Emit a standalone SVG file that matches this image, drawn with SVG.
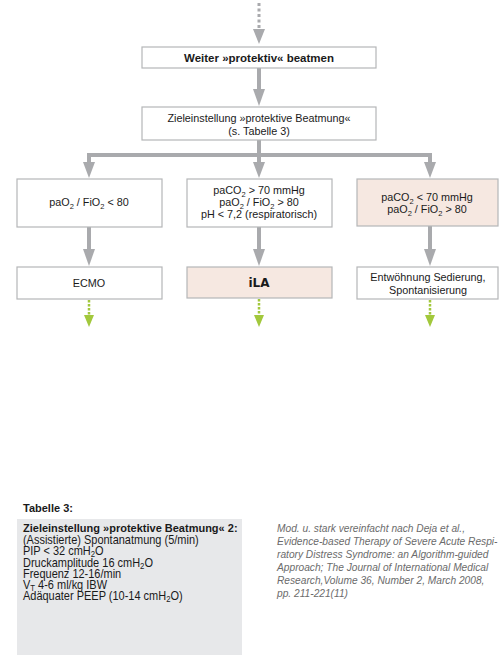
<svg xmlns="http://www.w3.org/2000/svg" width="499" height="655" viewBox="0 0 499 655">
<style>
.box{fill:#ffffff;stroke:#b5b6b8;stroke-width:1.2}
.pink{fill:#f6e8e1;stroke:#b5b6b8;stroke-width:1.2}
.t{font-family:"Liberation Sans",Arial,sans-serif;font-size:10.8px;fill:#1a1a1a;text-anchor:middle}
.b{font-weight:bold;font-size:11.5px}
.g{stroke:#a9aaad;stroke-width:4;fill:none}
.gh{fill:#a9aaad}
.gr{stroke:#a2c83c;stroke-width:2.5;fill:none;stroke-dasharray:2.5 1.5}
.grh{fill:#a2c83c}
.tab{font-family:"Liberation Sans",Arial,sans-serif;font-size:12px;fill:#1a1a1a}
.tb{font-weight:bold;font-size:11px}
.cit{font-family:"Liberation Sans",Arial,sans-serif;font-size:10.2px;font-style:italic;fill:#6b6b6b}
.s{font-size:7.5px}
.s2{font-size:8.5px}
</style>
<g id="connectors">
  <line x1="259" y1="3" x2="259" y2="28" stroke="#a9aaad" stroke-width="3" stroke-dasharray="3 2.5"/>
  <polygon class="gh" points="253,29 265,29 259,44"/>
  <line class="g" x1="259" y1="68" x2="259" y2="90"/>
  <polygon class="gh" points="253,89 265,89 259,106"/>
  <line class="g" x1="259" y1="140" x2="259" y2="155"/>
  <polyline class="g" points="89,163 89,155 430,155 430,163"/>
  <polygon class="gh" points="83,162 95,162 89,178"/>
  <line class="g" x1="259" y1="155" x2="259" y2="163"/>
  <polygon class="gh" points="253,162 265,162 259,178"/>
  <polygon class="gh" points="424,162 436,162 430,178"/>
  <line class="g" x1="89" y1="227" x2="89" y2="250"/>
  <polygon class="gh" points="83,249 95,249 89,266"/>
  <line class="g" x1="259" y1="227" x2="259" y2="250"/>
  <polygon class="gh" points="253,249 265,249 259,266"/>
  <line class="g" x1="430" y1="226" x2="430" y2="250"/>
  <polygon class="gh" points="424,249 436,249 430,266"/>
  <line class="gr" x1="89" y1="300" x2="89" y2="316"/>
  <polygon class="grh" points="84,315 94,315 89,327"/>
  <line class="gr" x1="259" y1="299" x2="259" y2="316"/>
  <polygon class="grh" points="254,315 264,315 259,327"/>
  <line class="gr" x1="430" y1="300" x2="430" y2="316"/>
  <polygon class="grh" points="425,315 435,315 430,327"/>
</g>
<g id="n1">
  <rect class="box" x="142" y="47" width="234" height="21"/>
  <text class="t b" x="259" y="62">Weiter »protektiv« beatmen</text>
</g>
<g id="n2">
  <rect class="box" x="142" y="107" width="234" height="33"/>
  <text class="t" x="259" y="122">Zieleinstellung »protektive Beatmung«</text>
  <text class="t" x="259" y="135">(s. Tabelle 3)</text>
</g>
<g id="n3">
  <rect class="box" x="17" y="179" width="145" height="48"/>
  <text class="t" x="89" y="206">paO<tspan class="s" dy="2.5">2</tspan><tspan dy="-2.5"> / FiO</tspan><tspan class="s" dy="2.5">2</tspan><tspan dy="-2.5"> &lt; 80</tspan></text>
</g>
<g id="n4">
  <rect class="box" x="187" y="179" width="145" height="48"/>
  <text class="t" x="259" y="194">paCO<tspan class="s" dy="2.5">2</tspan><tspan dy="-2.5"> &gt; 70 mmHg</tspan></text>
  <text class="t" x="259" y="206">paO<tspan class="s" dy="2.5">2</tspan><tspan dy="-2.5"> / FiO</tspan><tspan class="s" dy="2.5">2</tspan><tspan dy="-2.5"> &gt; 80</tspan></text>
  <text class="t" x="259" y="218">pH &lt; 7,2 (respiratorisch)</text>
</g>
<g id="n5">
  <rect class="pink" x="357" y="179" width="141" height="47"/>
  <text class="t" x="427" y="201">paCO<tspan class="s" dy="2.5">2</tspan><tspan dy="-2.5"> &lt; 70 mmHg</tspan></text>
  <text class="t" x="427" y="213">paO<tspan class="s" dy="2.5">2</tspan><tspan dy="-2.5"> / FiO</tspan><tspan class="s" dy="2.5">2</tspan><tspan dy="-2.5"> &gt; 80</tspan></text>
</g>
<g id="n6">
  <rect class="box" x="17" y="267" width="145" height="32"/>
  <text class="t" x="89" y="287">ECMO</text>
</g>
<g id="n7">
  <rect class="pink" x="187" y="267" width="145" height="31"/>
  <text class="t b" x="259" y="287" style="font-family:'DejaVu Sans',sans-serif;font-size:12px">iLA</text>
</g>
<g id="n8">
  <rect class="box" x="357" y="267" width="141" height="32"/>
  <text class="t" x="428" y="281">Entwöhnung Sedierung,</text>
  <text class="t" x="428" y="294">Spontanisierung</text>
</g>
<g id="table">
  <text class="tab tb" x="23" y="512">Tabelle 3:</text>
  <rect x="17" y="519" width="225" height="136" fill="#e7e8ea"/>
  <text class="tab tb" x="23" y="532">Zieleinstellung »protektive Beatmung« 2:</text>
  <g transform="scale(0.915,1)">
  <text class="tab" x="25.1" y="544">(Assistierte) Spontanatmung (5/min)</text>
  <text class="tab" x="25.1" y="555">PIP &lt; 32 cmH<tspan class="s2" dy="2.5">2</tspan><tspan dy="-2.5">O</tspan></text>
  <text class="tab" x="25.1" y="567">Druckamplitude 16 cmH<tspan class="s2" dy="2.5">2</tspan><tspan dy="-2.5">O</tspan></text>
  <text class="tab" x="25.1" y="578">Frequenz 12-16/min</text>
  <text class="tab" x="25.1" y="589">V<tspan class="s2" dy="2.5">T</tspan><tspan dy="-2.5"> 4-6 ml/kg IBW</tspan></text>
  <text class="tab" x="25.1" y="600">Adäquater PEEP (10-14 cmH<tspan class="s2" dy="2.5">2</tspan><tspan dy="-2.5">O)</tspan></text>
  </g>
</g>
<g id="citation">
  <text class="cit" x="277" y="532">Mod. u. stark vereinfacht nach Deja et al.,</text>
  <text class="cit" x="277" y="545">Evidence-based Therapy of Severe Acute Respi-</text>
  <text class="cit" x="277" y="558">ratory Distress Syndrome: an Algorithm-guided</text>
  <text class="cit" x="277" y="571">Approach; The Journal of International Medical</text>
  <text class="cit" x="277" y="584">Research,Volume 36, Number 2, March 2008,</text>
  <text class="cit" x="277" y="597">pp. 211-221(11)</text>
</g>
</svg>
